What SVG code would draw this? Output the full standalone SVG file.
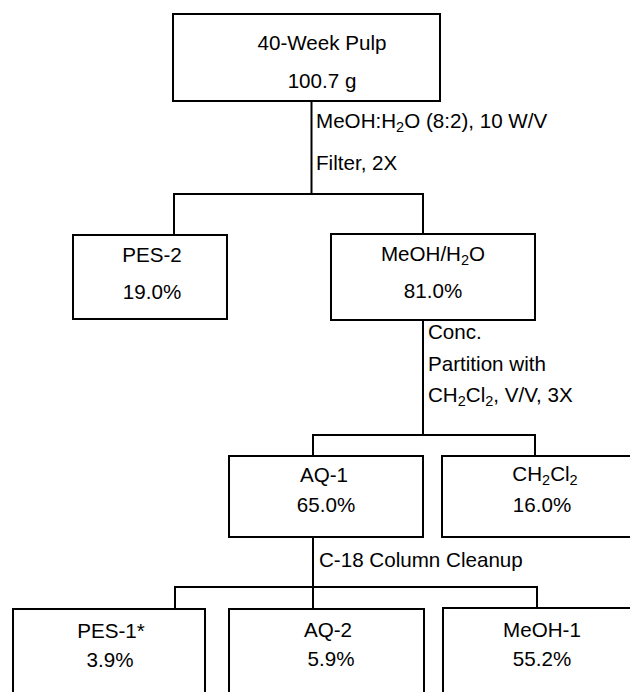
<svg xmlns="http://www.w3.org/2000/svg" width="630" height="692" viewBox="0 0 630 692">
<style>
.box{fill:#fff;stroke:#000;stroke-width:2}
.c{fill:none;stroke:#000;stroke-width:2}
text{font-family:"Liberation Sans",Arial,sans-serif;font-size:20.6px;fill:#000}
.m{text-anchor:middle}
.s{font-size:14.5px}
</style>
<rect width="630" height="692" fill="#fff"/>
<g id="connectors">
<path class="c" d="M311.5,101V194M174,194H423M174,193V235M423,193V234M423,320V435M313,435H535M313,434V456M535,434V456M313,537V609M175,587H537M175,586V609M537,586V608"/>
</g>
<g id="labels">
<text x="316" y="128">MeOH:H<tspan class="s" dy="4">2</tspan><tspan dy="-4">O (8:2), 10 W/V</tspan></text>
<text x="316" y="170">Filter, 2X</text>
<text x="428" y="339">Conc.</text>
<text x="428" y="371">Partition with</text>
<text x="428" y="402">CH<tspan class="s" dy="4">2</tspan><tspan dy="-4">Cl</tspan><tspan class="s" dy="4">2</tspan><tspan dy="-4">, V/V, 3X</tspan></text>
<text x="319" y="567">C-18 Column Cleanup</text>
</g>
<g id="pulp">
<rect class="box" x="173" y="14" width="267" height="87"/>
<text class="m" x="322" y="50">40-Week Pulp</text>
<text class="m" x="322" y="88">100.7 g</text>
</g>
<g id="pes2">
<rect class="box" x="73" y="235" width="154" height="84"/>
<text class="m" x="152" y="262">PES-2</text>
<text class="m" x="152" y="299">19.0%</text>
</g>
<g id="meohh2o">
<rect class="box" x="331" y="234" width="204" height="86"/>
<text class="m" x="433" y="261">MeOH/H<tspan class="s" dy="4">2</tspan><tspan dy="-4">O</tspan></text>
<text class="m" x="433" y="298">81.0%</text>
</g>
<g id="aq1">
<rect class="box" x="229" y="456" width="194" height="81"/>
<text class="m" x="324" y="482">AQ-1</text>
<text class="m" x="326" y="512">65.0%</text>
</g>
<g id="ch2cl2">
<rect class="box" x="442" y="456" width="200" height="81"/>
<text class="m" x="545" y="481">CH<tspan class="s" dy="4">2</tspan><tspan dy="-4">Cl</tspan><tspan class="s" dy="4">2</tspan></text>
<text class="m" x="542" y="512">16.0%</text>
</g>
<g id="pes1">
<rect class="box" x="13" y="609" width="192" height="100"/>
<text class="m" x="111" y="638">PES-1*</text>
<text class="m" x="110" y="667">3.9%</text>
</g>
<g id="aq2">
<rect class="box" x="229" y="609" width="195" height="100"/>
<text class="m" x="328" y="637">AQ-2</text>
<text class="m" x="331" y="666">5.9%</text>
</g>
<g id="meoh1">
<rect class="box" x="443" y="608" width="200" height="100"/>
<text class="m" x="542" y="637">MeOH-1</text>
<text class="m" x="542" y="666">55.2%</text>
</g>
</svg>
